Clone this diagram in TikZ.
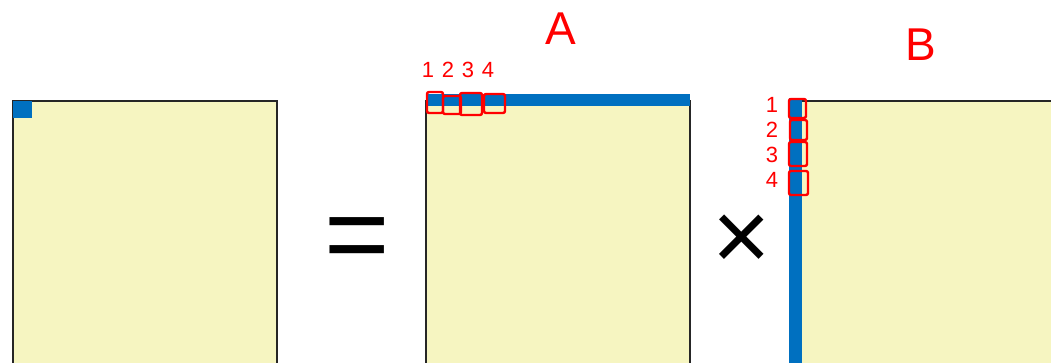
\documentclass[tikz,border=0pt]{standalone}
\usepackage{fontspec}
\setmainfont{Liberation Sans}
\definecolor{padyellow}{RGB}{246,245,193}
\definecolor{rowblue}{RGB}{0,112,192}
\begin{document}
\begin{tikzpicture}[
        x=1pt, y=-1pt,
        % Matrix body and its border
        mat fill/.style={fill=padyellow},
        mat edge/.style={draw=black!85, line width=1.3pt},
        % Highlighted row / column
        strip/.style={fill=rowblue},
        % Hand-drawn red boxes round the elements
        redbox/.style={
            draw=red,
            line width=2.4pt,
            rounded corners=2pt
        },
        % Red handwritten labels
        red label/.style={
            text=red,
            inner sep=0pt
        },
        % Big operator signs
        sign/.style={
            inner sep=0pt,
            anchor=base
        }
    ]
        \useasboundingbox (0,0) rectangle (1051,363);

        % Result matrix (left)
        \fill[mat fill] (13,101) rectangle (277,363);
        \draw[mat edge] (13,363) -- (13,101) -- (277,101) -- (277,363);
        \fill[strip] (13,101) rectangle (32,118); % one element

        % Equals sign
        \node[sign, font=\fontsize{112}{112}\selectfont] (eq) at (357,272) {=};

        % Matrix A
        \fill[mat fill] (426,101) rectangle (690,363);
        \draw[mat edge] (426,363) -- (426,101) -- (690,101) -- (690,363);
        \fill[strip] (426,94) rectangle (690,106); % first row
        \draw[redbox] (427,92) rectangle (443,113);
        \draw[redbox] (443,96) rectangle (461,114);
        \draw[redbox] (460,93) rectangle (482,115);
        \draw[redbox] (484,94) rectangle (505,113);
        \node[red label, font=\fontsize{22}{22}\selectfont] (a1) at (428,70) {1};
        \node[red label, font=\fontsize{22}{22}\selectfont] (a2) at (448,70) {2};
        \node[red label, font=\fontsize{22}{22}\selectfont] (a3) at (468,70) {3};
        \node[red label, font=\fontsize{22}{22}\selectfont] (a4) at (488,70) {4};
        \node[red label, font=\fontsize{46}{46}\selectfont] (labA) at (561,29) {A};

        % Times sign
        \node[sign, font=\fontsize{100}{100}\selectfont] (times) at (742,270) {×};

        % Matrix B
        \fill[mat fill] (796,101) rectangle (1051,363);
        \draw[mat edge] (796,363) -- (796,101) -- (1052,101);
        \fill[strip] (789,98) rectangle (802,363); % first column
        \draw[redbox] (789,99) rectangle (806,118);
        \draw[redbox] (790,120) rectangle (807,140);
        \draw[redbox] (789,142) rectangle (807,166);
        \draw[redbox] (789,171) rectangle (808,195);
        \node[red label, font=\fontsize{22}{22}\selectfont] (b1) at (772,105) {1};
        \node[red label, font=\fontsize{22}{22}\selectfont] (b2) at (772,130) {2};
        \node[red label, font=\fontsize{22}{22}\selectfont] (b3) at (772,155) {3};
        \node[red label, font=\fontsize{22}{22}\selectfont] (b4) at (772,180) {4};
        \node[red label, font=\fontsize{46}{46}\selectfont] (labB) at (921,45) {B};

    \end{tikzpicture}
\end{document}
